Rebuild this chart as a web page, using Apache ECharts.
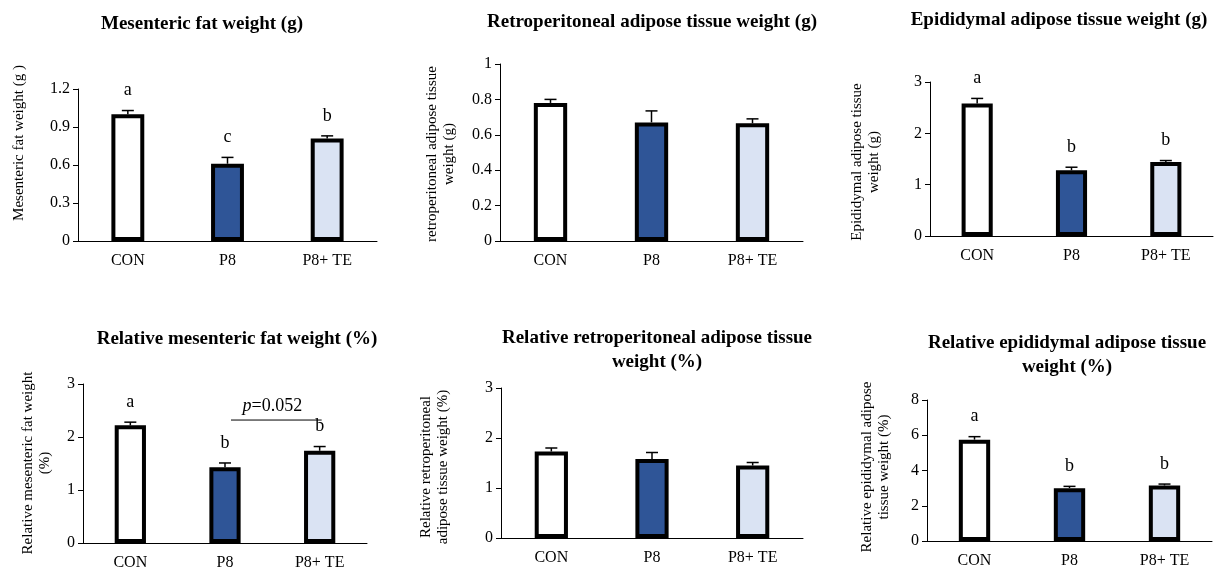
<!DOCTYPE html>
<html>
<head>
<meta charset="utf-8">
<script src="https://cdn.jsdelivr.net/npm/echarts@6/dist/echarts.min.js"></script>
<style>
html,body{margin:0;padding:0;background:#fff;}
#chart{width:1220px;height:572px;}
</style>
</head>
<body>
<div id="chart"></div>
<script>
// ---------- DATA ----------
const categories = ['CON', 'P8', 'P8+ TE'];
const barColors = ['#FFFFFF', '#2F5597', '#DAE3F3'];

const mesMean = [1.00, 0.61, 0.81];
const mesSd = [0.03, 0.05, 0.02];
const mesLetters = ['a', 'c', 'b'];

const retroMean = [0.78, 0.67, 0.665];
const retroSd = [0.02, 0.065, 0.025];
const retroLetters = ['', '', ''];

const epiMean = [2.58, 1.28, 1.44];
const epiSd = [0.10, 0.06, 0.03];
const epiLetters = ['a', 'b', 'b'];

const relMesMean = [2.22, 1.43, 1.74];
const relMesSd = [0.06, 0.08, 0.08];
const relMesLetters = ['a', 'b', 'b'];
const relMesPValue = 'p=0.052';
const relMesPLine = [[1, 2, 2.32]]; // from category, to category, level

const relRetroMean = [1.73, 1.58, 1.45];
const relRetroSd = [0.07, 0.13, 0.06];
const relRetroLetters = ['', '', ''];

const relEpiMean = [5.75, 3.00, 3.15];
const relEpiSd = [0.17, 0.10, 0.08];
const relEpiLetters = ['a', 'b', 'b'];

const panels = [
  {title: 'Mesenteric fat weight (g)', yName: 'Mesenteric fat weight (g )', mean: mesMean, sd: mesSd, letters: mesLetters, max: 1.2, interval: 0.3,
   grid: {left: 78, top: 89, width: 299, height: 152}, titlePos: [202, 24], yNamePos: [19, 143]},
  {title: 'Retroperitoneal adipose tissue weight (g)', yName: 'retroperitoneal adipose tissue\nweight (g)', mean: retroMean, sd: retroSd, letters: retroLetters, max: 1, interval: 0.2,
   grid: {left: 500, top: 64, width: 303, height: 177}, titlePos: [652, 22], yNamePos: [441, 154]},
  {title: 'Epididymal adipose tissue weight (g)', yName: 'Epididymal adipose tissue\nweight (g)', mean: epiMean, sd: epiSd, letters: epiLetters, max: 3, interval: 1,
   grid: {left: 930, top: 82, width: 283, height: 154}, titlePos: [1059, 20], yNamePos: [866, 162]},
  {title: 'Relative mesenteric fat weight (%)', yName: 'Relative mesenteric fat weight\n(%)', mean: relMesMean, sd: relMesSd, letters: relMesLetters, max: 3, interval: 1,
   grid: {left: 83, top: 384, width: 284, height: 159}, titlePos: [237, 339], yNamePos: [37, 463]},
  {title: 'Relative retroperitoneal adipose tissue\nweight (%)', yName: 'Relative retroperitoneal\nadipose tissue weight (%)', mean: relRetroMean, sd: relRetroSd, letters: relRetroLetters, max: 3, interval: 1,
   grid: {left: 501, top: 388, width: 302, height: 150}, titlePos: [657, 350], yNamePos: [435, 467]},
  {title: 'Relative epididymal adipose tissue\nweight (%)', yName: 'Relative epididymal adipose\ntissue weight (%)', mean: relEpiMean, sd: relEpiSd, letters: relEpiLetters, max: 8, interval: 2,
   grid: {left: 927, top: 400, width: 285, height: 141}, titlePos: [1067, 355], yNamePos: [876, 467]}
];

const FONT = '"Liberation Serif", "Times New Roman", serif';

function makeErrRender(letters) {
  return function (params, api) {
    const i = api.value(0), m = api.value(1), s = api.value(2);
    const p0 = api.coord([i, m]);
    const p1 = api.coord([i, m + s]);
    const children = [
      {type: 'line', shape: {x1: p0[0], y1: p0[1], x2: p1[0], y2: p1[1]}, style: {stroke: '#000', lineWidth: 1.5}},
      {type: 'line', shape: {x1: p1[0] - 6, y1: p1[1], x2: p1[0] + 6, y2: p1[1]}, style: {stroke: '#000', lineWidth: 1.5}}
    ];
    const L = letters[params.dataIndex];
    if (L) {
      children.push({type: 'text', x: p1[0], y: p1[1] - 20,
        style: {text: L, fill: '#000', font: '18px ' + FONT, textAlign: 'center', textVerticalAlign: 'middle', align: 'center', verticalAlign: 'middle'}});
    }
    return {type: 'group', children: children};
  };
}

const grid = [], xAxis = [], yAxis = [], series = [], graphic = [];
panels.forEach((p, k) => {
  grid.push(Object.assign({containLabel: false}, p.grid));
  xAxis.push({
    type: 'category', gridIndex: k, data: categories,
    axisLine: {lineStyle: {color: '#000', width: 1}},
    axisTick: {show: false},
    axisLabel: {color: '#000', fontFamily: FONT, fontSize: 16, margin: 12}
  });
  yAxis.push({
    type: 'value', gridIndex: k, min: 0, max: p.max, interval: p.interval,
    axisLine: {show: true, lineStyle: {color: '#000', width: 1}},
    axisTick: {show: true, length: 5, lineStyle: {color: '#000'}},
    splitLine: {show: false},
    axisLabel: {color: '#000', fontFamily: FONT, fontSize: 16, margin: 8}
  });
  series.push({
    type: 'bar', xAxisIndex: k, yAxisIndex: k, barWidth: '33%',
    data: p.mean.map((v, i) => ({value: v, itemStyle: {color: barColors[i]}})),
    itemStyle: {borderColor: '#000', borderWidth: 4},
    silent: true, animation: false
  });
  series.push({
    type: 'custom', xAxisIndex: k, yAxisIndex: k, z: 5,
    data: p.mean.map((v, i) => [i, v, p.sd[i]]),
    renderItem: makeErrRender(p.letters), silent: true, animation: false
  });
  graphic.push({
    type: 'text', x: p.titlePos[0], y: p.titlePos[1],
    style: {text: p.title, fill: '#000', font: 'bold 19px ' + FONT, lineHeight: 24,
      textAlign: 'center', textVerticalAlign: 'middle', align: 'center', verticalAlign: 'middle'}
  });
  graphic.push({
    type: 'text', x: p.yNamePos[0], y: p.yNamePos[1], rotation: Math.PI / 2,
    style: {text: p.yName, fill: '#000', font: '15px ' + FONT, lineHeight: 17,
      textAlign: 'center', textVerticalAlign: 'middle', align: 'center', verticalAlign: 'middle'}
  });
});

// p-value annotation on panel 4
series.push({
  type: 'custom', xAxisIndex: 3, yAxisIndex: 3, z: 6, silent: true, animation: false,
  data: relMesPLine,
  renderItem: function (params, api) {
    const a = api.coord([api.value(0), api.value(2)]);
    const b = api.coord([api.value(1), api.value(2)]);
    const x1 = a[0] + 6, x2 = b[0] + 2;
    return {type: 'group', children: [
      {type: 'line', shape: {x1: x1, y1: a[1], x2: x2, y2: a[1]}, style: {stroke: '#000', lineWidth: 1}},
      {type: 'text', x: (a[0] + b[0]) / 2, y: a[1] - 14,
        style: {text: '{i|p}' + relMesPValue.slice(1), fill: '#000', font: '18px ' + FONT,
          textAlign: 'center', textVerticalAlign: 'middle', align: 'center', verticalAlign: 'middle',
          rich: {i: {fontStyle: 'italic', fontFamily: FONT, fontSize: 18, fill: '#000'}}}}
    ]};
  }
});

const chart = echarts.init(document.getElementById('chart'), null, {renderer: 'canvas'});
chart.setOption({
  animation: false,
  backgroundColor: '#fff',
  grid: grid, xAxis: xAxis, yAxis: yAxis, series: series, graphic: graphic
});
</script>
</body>
</html>
